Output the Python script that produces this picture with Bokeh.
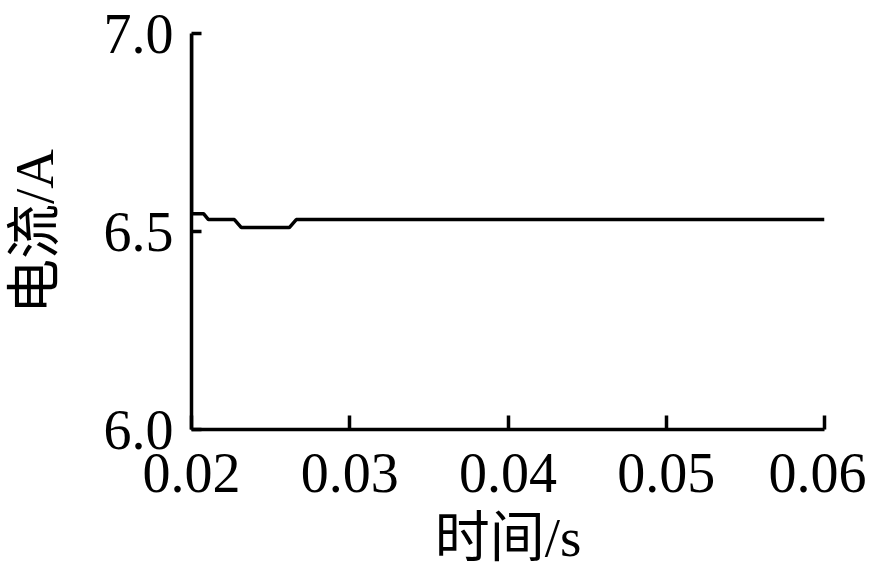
from bokeh.plotting import figure
from bokeh.models import Range1d, FixedTicker, PrintfTickFormatter
from bokeh.embed import file_html
from bokeh.resources import INLINE

# time (s) and current (A)
time_s = [0.02, 0.02, 0.02076, 0.02107, 0.02271, 0.02315, 0.02618, 0.02662, 0.06]
current_a = [7.0, 6.545, 6.545, 6.53, 6.53, 6.51, 6.51, 6.53, 6.53]

x_ticks = [0.02, 0.03, 0.04, 0.05, 0.06]
y_ticks = [6.0, 6.5, 7.0]

FONT = "'Liberation Serif', 'Times New Roman', 'Noto Sans CJK SC', serif"

p = figure(width=866, height=572, output_backend="svg", toolbar_location=None,
           x_range=Range1d(0.02, 0.06), y_range=Range1d(6.0, 7.0),
           min_border_left=190, min_border_right=42,
           min_border_top=33, min_border_bottom=143)

p.line(time_s, current_a, line_color="black", line_width=3.5)

p.grid.visible = False
p.outline_line_color = None
p.background_fill_color = "white"
p.border_fill_color = "white"

for ax in (p.xaxis[0], p.yaxis[0]):
    ax.axis_line_width = 3.5
    ax.axis_line_color = "black"
    ax.major_tick_line_width = 3.5
    ax.major_tick_line_color = "black"
    ax.major_tick_out = 0
    ax.minor_tick_line_color = None
    ax.major_label_text_font = FONT
    ax.major_label_text_font_size = "56px"
    ax.major_label_text_color = "black"
    ax.axis_label_text_font = FONT
    ax.axis_label_text_font_size = "55px"
    ax.axis_label_text_font_style = "normal"
    ax.axis_label_text_color = "black"

p.xaxis.ticker = FixedTicker(ticks=x_ticks)
p.xaxis.formatter = PrintfTickFormatter(format="%.2f")
p.xaxis.major_tick_in = 14
p.xaxis.major_label_standoff = 24
p.xaxis.axis_label = "时间/s"
p.xaxis.axis_label_standoff = 12

p.yaxis.ticker = FixedTicker(ticks=y_ticks)
p.yaxis.formatter = PrintfTickFormatter(format="%.1f")
p.yaxis.major_tick_in = 10
p.yaxis.major_label_standoff = 18
p.yaxis.axis_label = "电流/A"
p.yaxis.axis_label_standoff = 36

open("out.html", "w").write(file_html(p, INLINE))
